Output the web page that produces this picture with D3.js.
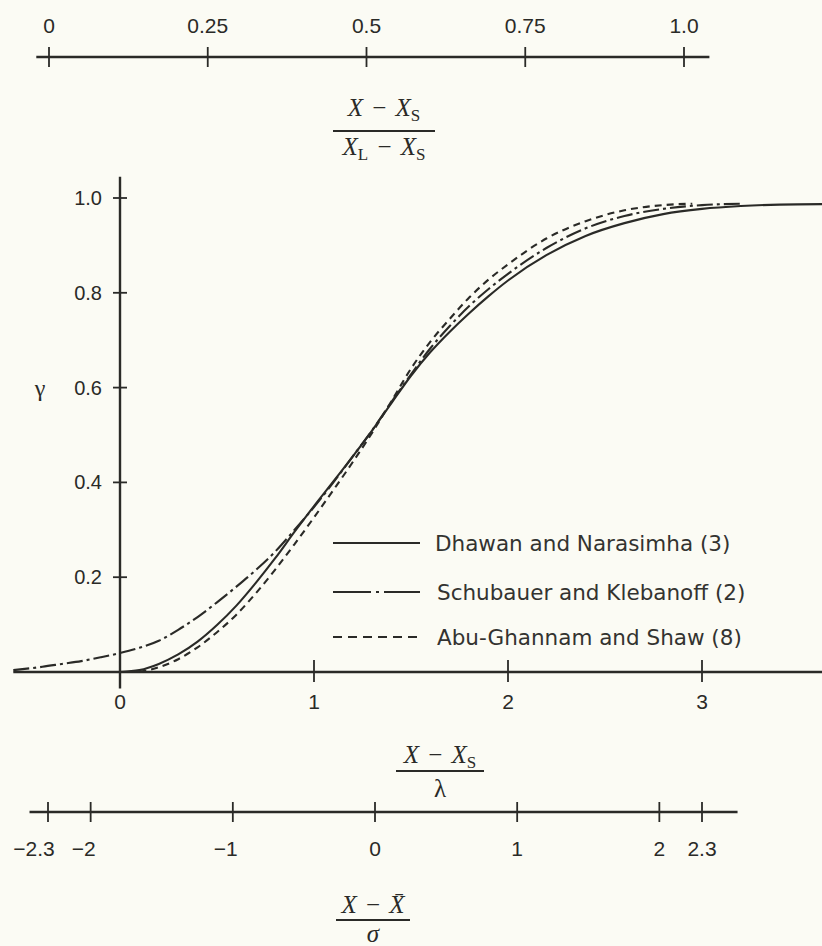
<!DOCTYPE html>
<html>
<head>
<meta charset="utf-8">
<script src="https://cdn.jsdelivr.net/npm/d3@7"></script>
<style>
  body { margin: 0; background: #fbfbf4; }
  svg { display: block; }
</style>
</head>
<body>
<script>
const width = 822;
const height = 946;
const ink = "#2a2a27";

// tick values and labels
const xTicks = [0, 1, 2, 3];
const yTicks = [0.2, 0.4, 0.6, 0.8, 1.0];
const yTickLabels = ["0.2", "0.4", "0.6", "0.8", "1.0"];
const topTicks = [0, 0.25, 0.5, 0.75, 1.0];
const topTickLabels = ["0", "0.25", "0.5", "0.75", "1.0"];
const bottomTicks = [-2.3, -2, -1, 0, 1, 2, 2.3];
const bottomTickLabels = ["\u22122.3", "\u22122", "\u22121", "0", "1", "2", "2.3"];

// intermittency curves: x = (X - Xs)/lambda, gamma
const dhawanX = [0, 0.1, 0.2, 0.3, 0.4, 0.5, 0.6, 0.7, 0.8, 0.9, 1.0, 1.1, 1.2, 1.3, 1.4, 1.5, 1.6, 1.7, 1.8, 1.9, 2.0, 2.2, 2.4, 2.6, 2.8, 3.0, 3.2, 3.4, 3.63];
const dhawanG = [0, 0.004, 0.017, 0.037, 0.064, 0.099, 0.14, 0.188, 0.24, 0.296, 0.35, 0.402, 0.455, 0.51, 0.568, 0.625, 0.675, 0.718, 0.757, 0.793, 0.826, 0.88, 0.92, 0.947, 0.966, 0.977, 0.983, 0.986, 0.987];

const schubX = [-0.55, -0.4, -0.3, -0.2, -0.1, 0, 0.1, 0.2, 0.3, 0.4, 0.5, 0.6, 0.7, 0.8, 0.9, 1.0, 1.1, 1.2, 1.3, 1.4, 1.5, 1.6, 1.7, 1.8, 1.9, 2.0, 2.2, 2.4, 2.6, 2.8, 3.0, 3.2];
const schubG = [0.004, 0.011, 0.017, 0.023, 0.031, 0.04, 0.051, 0.066, 0.089, 0.116, 0.147, 0.18, 0.215, 0.254, 0.3, 0.348, 0.4, 0.455, 0.51, 0.57, 0.628, 0.683, 0.73, 0.772, 0.808, 0.84, 0.895, 0.936, 0.962, 0.977, 0.985, 0.988];

const abuX = [0.1, 0.2, 0.3, 0.4, 0.5, 0.6, 0.7, 0.8, 0.9, 1.0, 1.1, 1.2, 1.3, 1.4, 1.5, 1.6, 1.7, 1.8, 1.9, 2.0, 2.2, 2.4, 2.6, 2.8, 2.95];
const abuG = [0, 0.01, 0.027, 0.052, 0.084, 0.121, 0.166, 0.216, 0.27, 0.326, 0.384, 0.443, 0.505, 0.572, 0.64, 0.697, 0.745, 0.79, 0.828, 0.86, 0.915, 0.951, 0.974, 0.985, 0.988];

const seriesNames = ["Dhawan and Narasimha (3)", "Schubauer and Klebanoff (2)", "Abu-Ghannam and Shaw (8)"];
const seriesDash = [null, "16,4,3,4", "7,5"];
const legendDash = [null, "38,5,3,5", "9,6"];

// scales (hand drawn figure: each axis gets its own pixel span)
const x = d3.scaleLinear().domain([0, 3]).range([120, 702]);
const y = d3.scaleLinear().domain([0, 1]).range([672, 198]);
const xTop = d3.scaleLinear().domain([0, 1]).range([49, 684]);
const xBot = d3.scaleLinear().domain([-2.3, 2.3]).range([48, 702]);

const svg = d3.select("body").append("svg")
    .attr("width", width)
    .attr("height", height);

svg.append("rect")
    .attr("width", width)
    .attr("height", height)
    .attr("fill", "#fbfbf4");

const tickFont = "'Liberation Sans', Arial, sans-serif";

// a horizontal scale bar with ticks crossing the line
function scaleBar(scale, extent, ticks, labels, lineY, labelY, dxFn) {
    const g = svg.append("g");
    g.append("line")
        .attr("x1", scale(extent[0])).attr("x2", scale(extent[1]))
        .attr("y1", lineY).attr("y2", lineY)
        .attr("stroke", ink).attr("stroke-width", 2.4);
    g.selectAll(".tk").data(ticks).enter().append("line")
        .attr("x1", d => scale(d)).attr("x2", d => scale(d))
        .attr("y1", lineY - 10).attr("y2", lineY + 10)
        .attr("stroke", ink).attr("stroke-width", 1.8);
    g.selectAll(".lb").data(ticks).enter().append("text")
        .attr("x", d => scale(d) + (dxFn ? dxFn(d) : 0))
        .attr("y", labelY)
        .attr("text-anchor", "middle")
        .attr("dominant-baseline", "central")
        .attr("font-family", tickFont)
        .attr("font-size", 21)
        .attr("fill", ink)
        .text((d, i) => labels[i]);
}

scaleBar(xTop, [-0.02, 1.04], topTicks, topTickLabels, 57, 25);
scaleBar(xBot, [-2.43, 2.55], bottomTicks, bottomTickLabels, 812, 848,
    d => d < -2.1 ? -14 : (d < 0 ? -7 : 0));

// main axes
const axes = svg.append("g");
axes.append("line")
    .attr("x1", x(-0.55)).attr("x2", x(3.65))
    .attr("y1", y(0)).attr("y2", y(0))
    .attr("stroke", ink).attr("stroke-width", 2.4);
axes.append("line")
    .attr("x1", x(0)).attr("x2", x(0))
    .attr("y1", y(1.045)).attr("y2", y(-0.035))
    .attr("stroke", ink).attr("stroke-width", 2.4);

axes.selectAll(".xt").data(xTicks.slice(1)).enter().append("line")
    .attr("x1", d => x(d)).attr("x2", d => x(d))
    .attr("y1", y(0) - 12).attr("y2", y(0) + 10)
    .attr("stroke", ink).attr("stroke-width", 1.8);
axes.selectAll(".xl").data(xTicks).enter().append("text")
    .attr("x", d => x(d))
    .attr("y", 701)
    .attr("text-anchor", "middle")
    .attr("dominant-baseline", "central")
    .attr("font-family", tickFont)
    .attr("font-size", 21)
    .attr("fill", ink)
    .text(d => d);

axes.selectAll(".yt").data(yTicks).enter().append("line")
    .attr("x1", x(0) - 7).attr("x2", x(0) + 7)
    .attr("y1", d => y(d)).attr("y2", d => y(d))
    .attr("stroke", ink).attr("stroke-width", 1.8);
axes.selectAll(".yl").data(yTicks).enter().append("text")
    .attr("x", x(0) - 18)
    .attr("y", d => y(d))
    .attr("text-anchor", "end")
    .attr("dominant-baseline", "central")
    .attr("font-family", tickFont)
    .attr("font-size", 20)
    .attr("fill", ink)
    .text((d, i) => yTickLabels[i]);

svg.append("text")
    .attr("x", 40).attr("y", y(0.6))
    .attr("text-anchor", "middle")
    .attr("dominant-baseline", "central")
    .attr("font-family", "'Liberation Serif', serif")
    .attr("font-size", 24)
    .attr("fill", ink)
    .text("\u03b3");

// curves
const series = [
    dhawanX.map((v, i) => [v, dhawanG[i]]),
    schubX.map((v, i) => [v, schubG[i]]),
    abuX.map((v, i) => [v, abuG[i]])
];
const line = d3.line()
    .x(d => x(d[0]))
    .y(d => y(d[1]))
    .curve(d3.curveMonotoneX);

svg.selectAll(".curve").data(series).enter().append("path")
    .attr("class", "curve")
    .attr("d", line)
    .attr("fill", "none")
    .attr("stroke", ink)
    .attr("stroke-width", 2.1)
    .attr("stroke-dasharray", (d, i) => seriesDash[i]);

// legend
const legendRows = [543, 592, 637];
const legend = svg.selectAll(".leg").data(seriesNames).enter().append("g")
    .attr("transform", (d, i) => `translate(333,${legendRows[i]})`);
legend.append("line")
    .attr("x1", 0).attr("x2", 87)
    .attr("stroke", ink).attr("stroke-width", 2)
    .attr("stroke-dasharray", (d, i) => legendDash[i]);
legend.append("text")
    .attr("x", (d, i) => i === 0 ? 102 : 104)
    .attr("dy", "0.36em")
    .attr("font-family", "'DejaVu Sans', sans-serif")
    .attr("font-size", 21.5)
    .attr("fill", "#333330")
    .text(d => d);

// fraction axis titles
const serif = "'Liberation Serif', 'Times New Roman', serif";
function addPieces(t, pieces) {
    pieces.forEach(p => {
        const s = t.append("tspan").text(p[0]);
        if (p[1] === "i") s.attr("font-style", "italic");
        if (p[1] === "sub") s.attr("font-size", 17).attr("dy", 5);
        if (p[1] === "back") s.attr("dy", -5);
    });
}
function fraction(cx, barY, barW, num, den, numBase, denBase) {
    const g = svg.append("g");
    g.append("line")
        .attr("x1", cx - barW / 2).attr("x2", cx + barW / 2)
        .attr("y1", barY).attr("y2", barY)
        .attr("stroke", ink).attr("stroke-width", 2);
    const tn = g.append("text")
        .attr("x", cx).attr("y", numBase)
        .attr("text-anchor", "middle")
        .attr("font-family", serif).attr("font-size", 25)
        .attr("word-spacing", 3)
        .attr("fill", ink);
    addPieces(tn, num);
    const td = g.append("text")
        .attr("x", cx).attr("y", denBase)
        .attr("text-anchor", "middle")
        .attr("font-family", serif).attr("font-size", 25)
        .attr("word-spacing", 3)
        .attr("fill", ink);
    addPieces(td, den);
}

fraction(384, 131, 102,
    [["X", "i"], [" \u2212 "], ["X", "i"], ["S", "sub"]],
    [["X", "i"], ["L", "sub"], [" \u2212 ", "back"], ["X", "i"], ["S", "sub"]],
    116, 155);
fraction(440, 771, 88,
    [["X", "i"], [" \u2212 "], ["X", "i"], ["S", "sub"]],
    [["\u03bb"]],
    763, 797);
fraction(373, 920, 74,
    [["X", "i"], [" \u2212 "], ["X\u0304", "i"]],
    [["\u03c3", "i"]],
    913, 942);
</script>
</body>
</html>
